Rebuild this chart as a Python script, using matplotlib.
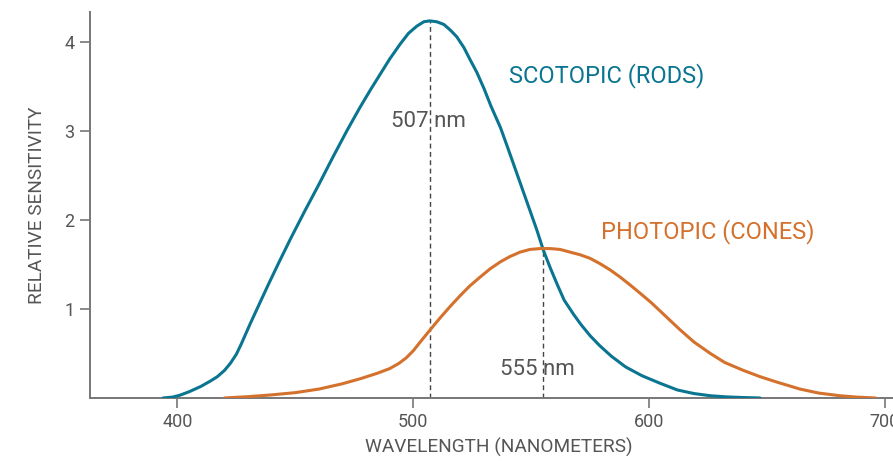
import matplotlib
matplotlib.use("Agg")
import matplotlib.pyplot as plt

plt.rcParams['font.family'] = ['Roboto', 'DejaVu Sans']

# scotopic (rods) curve
scot_wl = [394, 398, 401, 405, 410, 414, 417, 420, 422.5, 425, 427, 429, 431, 435, 438.5,
           443, 448, 454, 460, 466, 472, 477.5, 482, 486, 490, 494.5, 498, 501.5, 504.5,
           507, 510, 513, 516, 518.5, 521.5, 524, 527, 530, 533, 537, 540, 544, 548,
           552.4, 555.2, 558, 561, 564, 568, 571, 575, 579, 584, 590, 597, 604.7, 612,
           619, 626, 633, 640, 647]
scot_val = [0, 0.01, 0.03, 0.07, 0.13, 0.19, 0.24, 0.31, 0.39, 0.49, 0.60, 0.72, 0.84, 1.07, 1.27,
            1.52, 1.79, 2.10, 2.40, 2.71, 3.01, 3.27, 3.47, 3.64, 3.81, 3.98, 4.10, 4.18, 4.23,
            4.24, 4.23, 4.20, 4.13, 4.06, 3.94, 3.81, 3.66, 3.48, 3.28, 3.04, 2.82, 2.52, 2.22,
            1.89, 1.66, 1.47, 1.28, 1.10, 0.94, 0.83, 0.70, 0.59, 0.47, 0.35, 0.25, 0.165, 0.09,
            0.05, 0.025, 0.012, 0.005, 0]

# photopic (cones) curve
phot_wl = [420, 430, 440, 450, 460, 470, 478, 485, 490, 494, 497, 500, 503, 507, 511.4,
           515.7, 519.9, 524, 528.4, 532.5, 536.9, 541, 545.3, 549.5, 553.8, 558, 562.3,
           566.5, 570.8, 575, 579.2, 583.5, 587.7, 592, 597, 601, 605, 609, 613, 619,
           626, 632, 640, 647, 654, 664, 672, 681, 688, 696]
phot_val = [0, 0.015, 0.035, 0.06, 0.10, 0.16, 0.22, 0.28, 0.33, 0.39, 0.45, 0.53, 0.63, 0.76, 0.90,
            1.03, 1.15, 1.26, 1.36, 1.45, 1.53, 1.59, 1.64, 1.67, 1.68, 1.68, 1.67,
            1.64, 1.61, 1.57, 1.51, 1.44, 1.36, 1.27, 1.16, 1.07, 0.97, 0.87, 0.77, 0.63,
            0.50, 0.40, 0.31, 0.24, 0.18, 0.10, 0.055, 0.025, 0.01, 0]

peaks = [507, 555]
peak_vals = [4.24, 1.68]
xticks = [400, 500, 600, 700]
yticks = [1, 2, 3, 4]

teal = "#0a7591"
orange = "#d4712c"
grey = "#555555"

fig = plt.figure(figsize=(8.93, 4.61), dpi=100)
ax = fig.add_axes([0.1008, 0.1367, 0.8992, 0.8373])

ax.plot(scot_wl, scot_val, color=teal, lw=2.2, solid_capstyle="round",
        solid_joinstyle="round", zorder=3)
ax.plot(phot_wl, phot_val, color=orange, lw=2.2, solid_capstyle="round",
        solid_joinstyle="round", zorder=3)

for p, v in zip(peaks, peak_vals):
    ax.plot([p, p], [0, v], color="#444444", lw=1.0, linestyle=(0, (3.5, 2.5)), zorder=2)

ax.text(506.5, 3.11, "507 nm", ha="center", va="center", fontsize=16, color=grey)
ax.text(552.6, 0.315, "555 nm", ha="center", va="center", fontsize=16, color=grey)
ax.text(540.7, 3.63, "SCOTOPIC (RODS)", ha="left", va="center", fontsize=17, color=teal)
ax.text(579.6, 1.87, "PHOTOPIC (CONES)", ha="left", va="center", fontsize=17, color=orange)

ax.set_xlim(363, 703.4)
ax.set_ylim(0, 4.34)
ax.set_xticks(xticks)
ax.set_yticks(yticks)
ax.tick_params(axis="both", length=7, width=1.2, color="#777777", labelcolor=grey,
               labelsize=13, pad=4)

for s in ["top", "right"]:
    ax.spines[s].set_visible(False)
for s in ["left", "bottom"]:
    ax.spines[s].set_color("#777777")
    ax.spines[s].set_linewidth(1.4)

fig.text(0.5588, 0.030, "WAVELENGTH (NANOMETERS)", ha="center", va="center",
         fontsize=13.7, color=grey)
fig.text(0.041, 0.555, "RELATIVE SENSITIVITY", ha="center", va="center",
         rotation=90, fontsize=13.7, color=grey)

fig.savefig("out.png", dpi=100)
